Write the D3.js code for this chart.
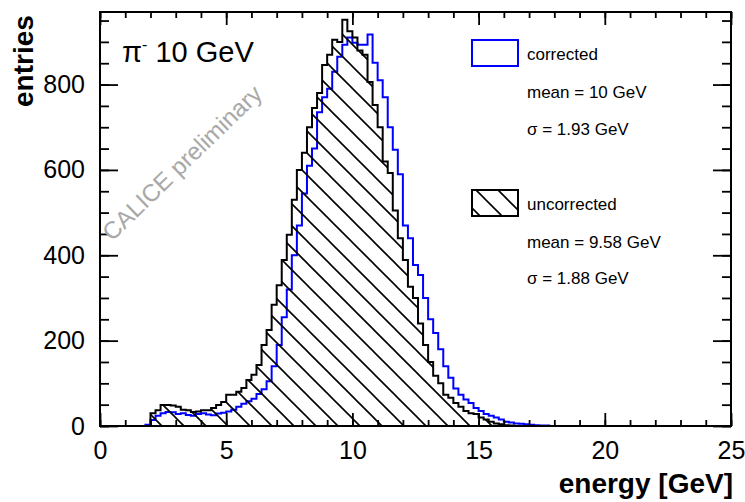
<!DOCTYPE html>
<html>
<head>
<meta charset="utf-8">
<script src="https://cdn.jsdelivr.net/npm/d3@7"></script>
<style>
  html, body { margin: 0; padding: 0; background: #fff; }
  svg { display: block; font-family: "Liberation Sans", Arial, Helvetica, sans-serif; }
</style>
</head>
<body>
<svg id="chart" width="745" height="502"></svg>
<script>
// Energy histograms, 0.2 GeV bins starting at 0 GeV (bins beyond the lists are empty)
const binWidth = 0.2;
const energyRange = [0, 25];
const entriesRange = [0, 970];

const corrected = [
  0, 0, 0, 0, 0, 0, 0, 0, 0, 3,
  14, 24, 30, 33, 32, 28, 30, 26, 24, 28,
  30, 27, 25, 29, 31, 34, 38, 45, 52, 58,
  64, 75, 86, 105, 140, 190, 255, 320, 400, 470,
  545, 610, 650, 735, 770, 790, 830, 865, 893, 910,
  898, 893, 893, 917, 851, 810, 770, 700, 647, 590,
  470, 440, 377, 354, 300, 250, 218, 180, 140, 113,
  88, 73, 62, 54, 42, 35, 28, 24, 20, 15,
  10, 8, 6, 5, 4, 3, 2, 1, 1, 0
];

const uncorrected = [
  0, 0, 0, 0, 0, 0, 0, 0, 0, 0,
  30, 37, 49, 49, 48, 45, 38, 37, 33, 34,
  37, 37, 42, 49, 56, 73, 73, 80, 89, 108,
  120, 143, 190, 225, 284, 330, 389, 448, 530, 600,
  640, 700, 745, 780, 846, 870, 905, 900, 952, 925,
  910, 880, 870, 806, 752, 700, 620, 593, 505, 440,
  389, 326, 300, 240, 190, 150, 118, 100, 73, 66,
  54, 45, 35, 30, 28, 20, 15, 10, 6, 4,
  2, 1, 0, 0, 0, 0, 0, 0, 0, 0
];

const xMajorTicks = [0, 5, 10, 15, 20, 25];
const xMinorTicks = d3.range(0, 26, 1);
const yMajorTicks = [0, 200, 400, 600, 800];
const yMinorTicks = d3.range(0, 951, 50);

const legendCorrected = ["corrected", "mean = 10 GeV", "\u03c3 = 1.93 GeV"];
const legendUncorrected = ["uncorrected", "mean = 9.58 GeV", "\u03c3 = 1.88 GeV"];

const svg = d3.select("#chart");
const x = d3.scaleLinear().domain(energyRange).range([100, 731]);
const y = d3.scaleLinear().domain(entriesRange).range([426, 12]);

// diagonal hatching for the uncorrected histogram
const defs = svg.append("defs");
const hs = 22;
const pat = defs.append("pattern")
  .attr("id", "hatch")
  .attr("patternUnits", "userSpaceOnUse")
  .attr("width", hs).attr("height", hs);
pat.append("path")
  .attr("d", `M-2,-2 L${hs + 2},${hs + 2} M-2,${hs - 2} L2,${hs + 2} M${hs - 2},-2 L${hs + 2},2`)
  .attr("stroke", "#000").attr("stroke-width", 1.6).attr("fill", "none");

defs.append("clipPath").attr("id", "plot")
  .append("rect").attr("x", 100).attr("y", 12).attr("width", 631).attr("height", 414);

// step outline of a histogram, running along zero outside the filled bins
function histPoints(vals) {
  const pts = [[energyRange[0], 0]];
  vals.forEach((v, i) => {
    pts.push([i * binWidth, v]);
    pts.push([(i + 1) * binWidth, v]);
  });
  pts.push([vals.length * binWidth, 0]);
  pts.push([energyRange[1], 0]);
  return pts;
}
const line = d3.line().x(d => x(d[0])).y(d => y(d[1]));

const plot = svg.append("g").attr("clip-path", "url(#plot)");

plot.append("path")
  .attr("d", line(histPoints(corrected)))
  .attr("fill", "none").attr("stroke", "#0000ff").attr("stroke-width", 2);

plot.append("path")
  .attr("d", line(histPoints(uncorrected)) + "Z")
  .attr("fill", "url(#hatch)").attr("stroke", "none");
plot.append("path")
  .attr("d", line(histPoints(uncorrected)))
  .attr("fill", "none").attr("stroke", "#000").attr("stroke-width", 2);

// axes: ticks on all four sides pointing inward
function styleAxis(g) {
  g.select(".domain").remove();
  g.selectAll(".tick line").attr("stroke", "#000").attr("stroke-width", 1.8);
  g.selectAll(".tick text").attr("fill", "#000").attr("font-size", 25)
    .attr("font-family", "Liberation Sans, Arial, sans-serif");
}

svg.append("g").attr("transform", "translate(0,426)")
  .call(d3.axisBottom(x).tickValues(xMinorTicks).tickSizeInner(-6).tickSizeOuter(0).tickFormat(""))
  .call(styleAxis);
svg.append("g").attr("transform", "translate(0,426)")
  .call(d3.axisBottom(x).tickValues(xMajorTicks).tickSizeInner(-13).tickSizeOuter(0).tickPadding(15).tickFormat(d3.format("d")))
  .call(styleAxis);
svg.append("g").attr("transform", "translate(0,12)")
  .call(d3.axisTop(x).tickValues(xMinorTicks).tickSizeInner(-6).tickSizeOuter(0).tickFormat(""))
  .call(styleAxis);
svg.append("g").attr("transform", "translate(0,12)")
  .call(d3.axisTop(x).tickValues(xMajorTicks).tickSizeInner(-13).tickSizeOuter(0).tickFormat(""))
  .call(styleAxis);

svg.append("g").attr("transform", "translate(100,0)")
  .call(d3.axisLeft(y).tickValues(yMinorTicks).tickSizeInner(-9).tickSizeOuter(0).tickFormat(""))
  .call(styleAxis);
svg.append("g").attr("transform", "translate(100,0)")
  .call(d3.axisLeft(y).tickValues(yMajorTicks).tickSizeInner(-18).tickSizeOuter(0).tickPadding(15).tickFormat(d3.format("d")))
  .call(styleAxis);
svg.append("g").attr("transform", "translate(731,0)")
  .call(d3.axisRight(y).tickValues(yMinorTicks).tickSizeInner(-9).tickSizeOuter(0).tickFormat(""))
  .call(styleAxis);
svg.append("g").attr("transform", "translate(731,0)")
  .call(d3.axisRight(y).tickValues(yMajorTicks).tickSizeInner(-18).tickSizeOuter(0).tickFormat(""))
  .call(styleAxis);

// frame
svg.append("rect")
  .attr("x", 100).attr("y", 12).attr("width", 631).attr("height", 414)
  .attr("fill", "none").attr("stroke", "#000").attr("stroke-width", 2);

// axis titles
svg.append("text")
  .attr("x", 733).attr("y", 493).attr("text-anchor", "end")
  .attr("font-size", 28).attr("font-weight", "bold").text("energy [GeV]");
svg.append("text")
  .attr("transform", "translate(33,107) rotate(-90)")
  .attr("text-anchor", "start")
  .attr("font-size", 28).attr("font-weight", "bold").text("entries");

// beam label
const beam = svg.append("text").attr("x", 122).attr("y", 62).attr("font-size", 29);
beam.append("tspan").text("\u03c0");
beam.append("tspan").attr("dy", -12).attr("font-size", 16).text("-");
beam.append("tspan").attr("dy", 12).text(" 10 GeV");

// watermark
svg.append("text")
  .attr("transform", "translate(112,242) rotate(-44)")
  .attr("font-size", 24).attr("fill", "#a8a8a8").text("CALICE preliminary");

// legend
const lg = svg.append("g");
lg.append("rect").attr("x", 472).attr("y", 40).attr("width", 46).attr("height", 26)
  .attr("fill", "none").attr("stroke", "#0000ff").attr("stroke-width", 2);
lg.append("rect").attr("x", 472).attr("y", 190).attr("width", 46).attr("height", 26)
  .attr("fill", "url(#hatch)").attr("stroke", "#000").attr("stroke-width", 2);

const legendRows = [
  { text: legendCorrected[0], y: 60 },
  { text: legendCorrected[1], y: 98 },
  { text: legendCorrected[2], y: 135 },
  { text: legendUncorrected[0], y: 210 },
  { text: legendUncorrected[1], y: 248 },
  { text: legendUncorrected[2], y: 284 }
];
lg.selectAll("text.row").data(legendRows).join("text")
  .attr("class", "row")
  .attr("x", 527).attr("y", d => d.y)
  .attr("font-size", 17).text(d => d.text);
</script>
</body>
</html>
